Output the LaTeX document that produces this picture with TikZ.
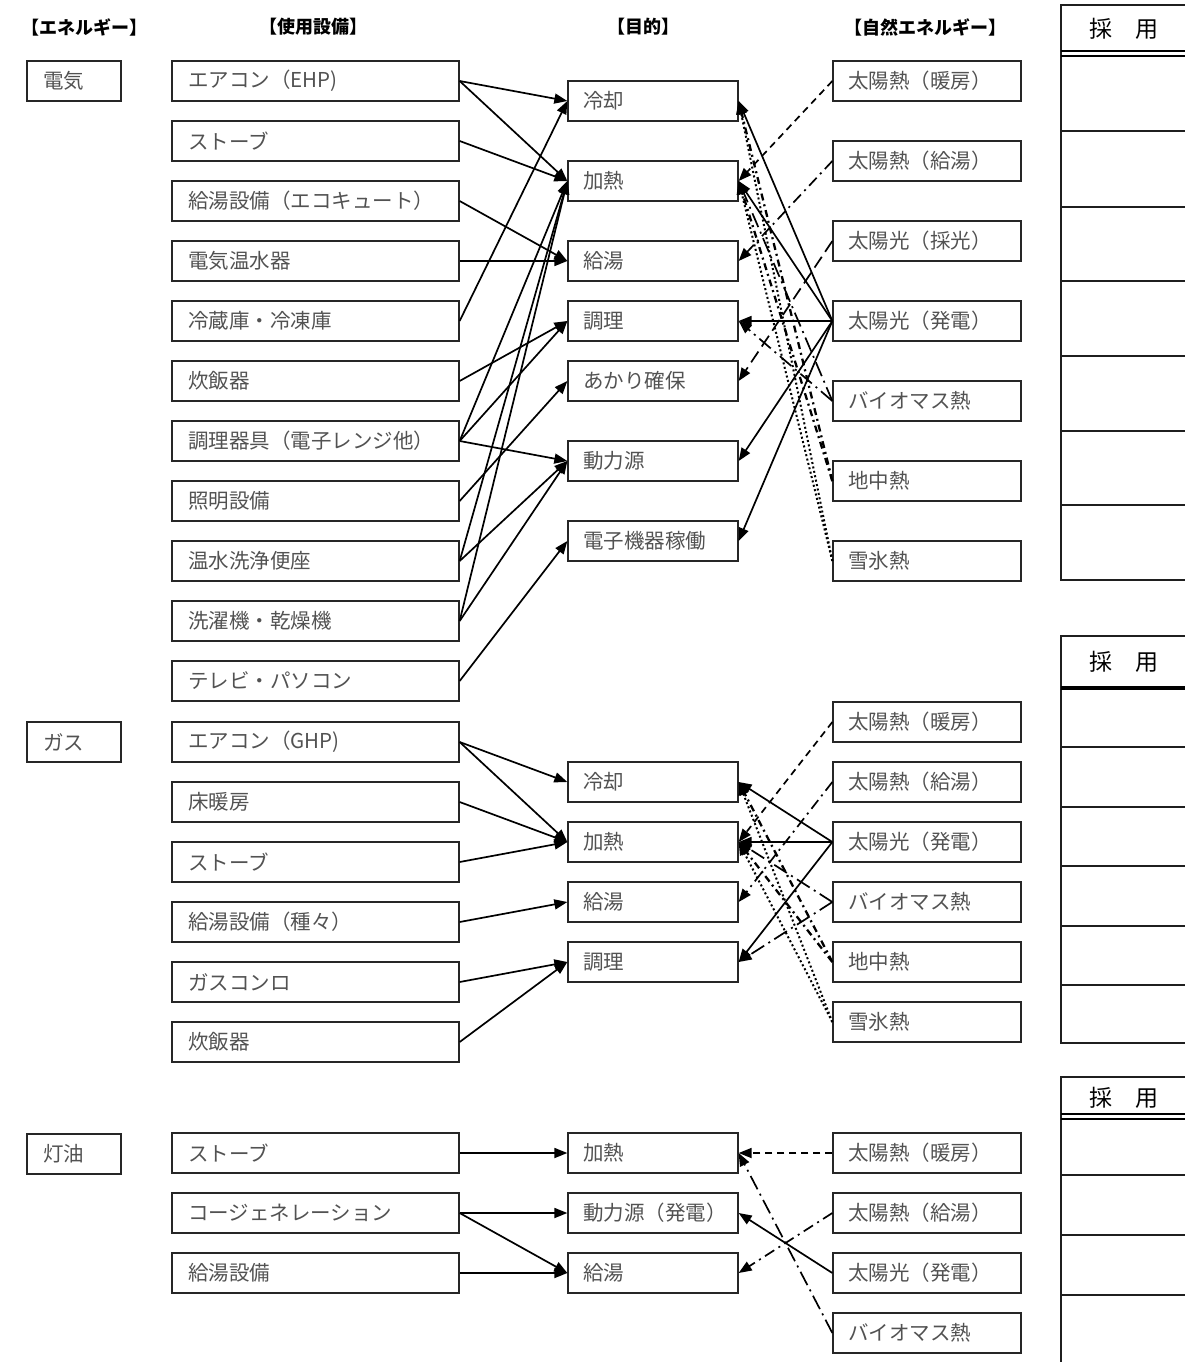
\documentclass[tikz,border=0pt]{standalone}
\usepackage{fontspec}
\newfontfamily\jp{Noto Sans CJK JP}
\usetikzlibrary{arrows.meta}
\begin{document}
\begin{tikzpicture}[x=1pt,y=-1pt,
  box/.style={draw=black!85, line width=1.3pt, minimum height=40pt, inner ysep=0pt, align=left,
    font=\jp\fontsize{20.5}{22}\selectfont, text=black!68},
  en/.style={box, text width=62pt, inner xsep=16pt},
  eq/.style={box, text width=255pt, inner xsep=16pt},
  pu/.style={box, text width=140pt, inner xsep=15pt},
  na/.style={box, text width=158pt, inner xsep=15pt},
  hd/.style={font=\jp\bfseries\fontsize{18}{20}\selectfont, text=black},
  tab/.style={line width=2.4pt, draw=black!88},
  conn/.style={line width=1.7pt, -{Triangle[length=13pt,width=10pt]}},
  shd/.style={conn, dash pattern=on 7pt off 5pt},
  sky/.style={conn, dash pattern=on 11pt off 5pt on 2pt off 5pt},
  sko/.style={conn, dash pattern=on 13pt off 6pt},
  bio/.style={conn, dash pattern=on 15pt off 5pt on 2pt off 5pt},
  geo/.style={conn, line width=2.3pt, dash pattern=on 7pt off 4pt on 2pt off 4pt},
  snw/.style={conn, line width=2pt, dash pattern=on 2pt off 2.5pt},
]
\useasboundingbox (0,0) rectangle (1185,1362);

% headers
\node[hd] (h1) at (84,27) {【エネルギー】};
\node[hd] (h2) at (313,27) {【使用設備】};
\node[hd] (h3) at (643,27) {【目的】};
\node[hd] (h4) at (925,27) {【自然エネルギー】};

% energy
\node[en] (en1) at (74,81) {電気};
\node[en] (en2) at (74,742) {ガス};
\node[en] (en3) at (74,1154) {灯油};

% ===== electricity =====
\node[eq] (e1) at (315.5,81) {エアコン（EHP)};
\node[eq] (e2) at (315.5,141) {ストーブ};
\node[eq] (e3) at (315.5,201) {給湯設備（エコキュート）};
\node[eq] (e4) at (315.5,261) {電気温水器};
\node[eq] (e5) at (315.5,321) {冷蔵庫・冷凍庫};
\node[eq] (e6) at (315.5,381) {炊飯器};
\node[eq] (e7) at (315.5,441) {調理器具（電子レンジ他）};
\node[eq] (e8) at (315.5,501) {照明設備};
\node[eq] (e9) at (315.5,561) {温水洗浄便座};
\node[eq] (e10) at (315.5,621) {洗濯機・乾燥機};
\node[eq] (e11) at (315.5,681) {テレビ・パソコン};

\node[pu] (p1) at (653,101) {冷却};
\node[pu] (p2) at (653,181) {加熱};
\node[pu] (p3) at (653,261) {給湯};
\node[pu] (p4) at (653,321) {調理};
\node[pu] (p5) at (653,381) {あかり確保};
\node[pu] (p6) at (653,461) {動力源};
\node[pu] (p7) at (653,541) {電子機器稼働};

\node[na] (n1) at (927,81) {太陽熱（暖房）};
\node[na] (n2) at (927,161) {太陽熱（給湯）};
\node[na] (n3) at (927,241) {太陽光（採光）};
\node[na] (n4) at (927,321) {太陽光（発電）};
\node[na] (n5) at (927,401) {バイオマス熱};
\node[na] (n6) at (927,481) {地中熱};
\node[na] (n7) at (927,561) {雪氷熱};

\draw[conn] (e1.east) -- (p1.west);
\draw[conn] (e1.east) -- (p2.west);
\draw[conn] (e2.east) -- (p2.west);
\draw[conn] (e3.east) -- (p3.west);
\draw[conn] (e4.east) -- (p3.west);
\draw[conn] (e5.east) -- (p1.west);
\draw[conn] (e6.east) -- (p4.west);
\draw[conn] (e7.east) -- (p4.west);
\draw[conn] (e7.east) -- (p2.west);
\draw[conn] (e7.east) -- (p6.west);
\draw[conn] (e8.east) -- (p5.west);
\draw[conn] (e9.east) -- (p2.west);
\draw[conn] (e9.east) -- (p6.west);
\draw[conn] (e10.east) -- (p2.west);
\draw[conn] (e10.east) -- (p6.west);
\draw[conn] (e11.east) -- (p7.west);

\draw[shd] (n1.west) -- (p2.east);
\draw[sky] (n2.west) -- (p3.east);
\draw[sko] (n3.west) -- (p5.east);
\draw[conn] (n4.west) -- (p1.east);
\draw[conn] (n4.west) -- (p2.east);
\draw[conn] (n4.west) -- (p4.east);
\draw[conn] (n4.west) -- (p6.east);
\draw[conn] (n4.west) -- (p7.east);
\draw[bio] (n5.west) -- (p2.east);
\draw[bio] (n5.west) -- (p4.east);
\draw[geo] (n6.west) -- (p1.east);
\draw[geo] (n6.west) -- (p2.east);
\draw[snw] (n7.west) -- (p1.east);
\draw[snw] (n7.west) -- (p2.east);

% ===== gas =====
\node[eq] (g1) at (315.5,742) {エアコン（GHP)};
\node[eq] (g2) at (315.5,802) {床暖房};
\node[eq] (g3) at (315.5,862) {ストーブ};
\node[eq] (g4) at (315.5,922) {給湯設備（種々）};
\node[eq] (g5) at (315.5,982) {ガスコンロ};
\node[eq] (g6) at (315.5,1042) {炊飯器};

\node[pu] (q1) at (653,782) {冷却};
\node[pu] (q2) at (653,842) {加熱};
\node[pu] (q3) at (653,902) {給湯};
\node[pu] (q4) at (653,962) {調理};

\node[na] (m1) at (927,722) {太陽熱（暖房）};
\node[na] (m2) at (927,782) {太陽熱（給湯）};
\node[na] (m3) at (927,842) {太陽光（発電）};
\node[na] (m4) at (927,902) {バイオマス熱};
\node[na] (m5) at (927,962) {地中熱};
\node[na] (m6) at (927,1022) {雪氷熱};

\draw[conn] (g1.east) -- (q1.west);
\draw[conn] (g1.east) -- (q2.west);
\draw[conn] (g2.east) -- (q2.west);
\draw[conn] (g3.east) -- (q2.west);
\draw[conn] (g4.east) -- (q3.west);
\draw[conn] (g5.east) -- (q4.west);
\draw[conn] (g6.east) -- (q4.west);

\draw[shd] (m1.west) -- (q2.east);
\draw[sky] (m2.west) -- (q3.east);
\draw[conn] (m3.west) -- (q1.east);
\draw[conn] (m3.west) -- (q2.east);
\draw[conn] (m3.west) -- (q4.east);
\draw[bio] (m4.west) -- (q2.east);
\draw[bio] (m4.west) -- (q4.east);
\draw[geo] (m5.west) -- (q1.east);
\draw[geo] (m5.west) -- (q2.east);
\draw[snw] (m6.west) -- (q1.east);
\draw[snw] (m6.west) -- (q2.east);

% ===== kerosene =====
\node[eq] (k1) at (315.5,1153) {ストーブ};
\node[eq] (k2) at (315.5,1213) {コージェネレーション};
\node[eq] (k3) at (315.5,1273) {給湯設備};

\node[pu] (r1) at (653,1153) {加熱};
\node[pu] (r2) at (653,1213) {動力源（発電）};
\node[pu] (r3) at (653,1273) {給湯};

\node[na] (s1) at (927,1153) {太陽熱（暖房）};
\node[na] (s2) at (927,1213) {太陽熱（給湯）};
\node[na] (s3) at (927,1273) {太陽光（発電）};
\node[na] (s4) at (927,1333) {バイオマス熱};

\draw[conn] (k1.east) -- (r1.west);
\draw[conn] (k2.east) -- (r2.west);
\draw[conn] (k2.east) -- (r3.west);
\draw[conn] (k3.east) -- (r3.west);

\draw[shd] (s1.west) -- (r1.east);
\draw[sky] (s2.west) -- (r3.east);
\draw[conn] (s3.west) -- (r2.east);
\draw[bio] (s4.west) -- (r1.east);

% ===== tables =====
\draw[tab] (1185,5) -- (1061,5) -- (1061,580) -- (1185,580);
\draw[line width=1.6pt] (1061,51) -- (1185,51);
\draw[line width=1.6pt] (1061,56) -- (1185,56);
\foreach \yy in {131,207,281,356,431,505} \draw[tab] (1061,\yy) -- (1185,\yy);
\node[font=\jp\fontsize{23}{25}\selectfont] (t1) at (1124,29) {採　用};

\draw[tab] (1185,636) -- (1061,636) -- (1061,1043) -- (1185,1043);
\draw[line width=3.2pt] (1061,688) -- (1185,688);
\foreach \yy in {747,807,866,926,985} \draw[tab] (1061,\yy) -- (1185,\yy);
\node[font=\jp\fontsize{23}{25}\selectfont] (t2) at (1124,662) {採　用};

\draw[tab] (1061,1077) -- (1185,1077);
\draw[tab] (1061,1076) -- (1061,1362);
\draw[line width=1.6pt] (1061,1114) -- (1185,1114);
\draw[line width=1.6pt] (1061,1119) -- (1185,1119);
\foreach \yy in {1175,1235,1295} \draw[tab] (1061,\yy) -- (1185,\yy);
\node[font=\jp\fontsize{23}{25}\selectfont] (t3) at (1124,1098) {採　用};
\end{tikzpicture}
\end{document}
